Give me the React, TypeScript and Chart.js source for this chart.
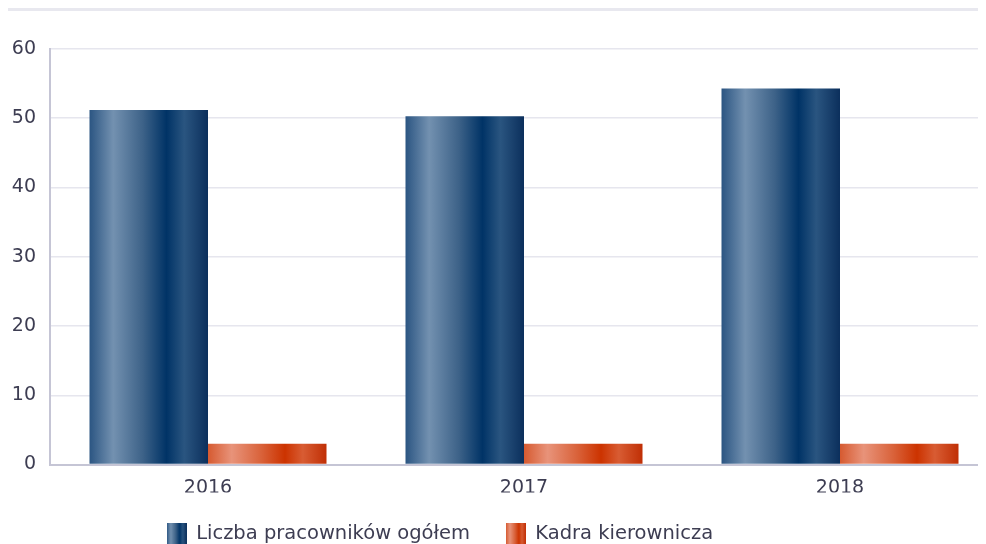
import React, { useEffect, useRef } from "react";
import { Chart, registerables } from "chart.js";

Chart.register(...registerables);

const categories = ["2016", "2017", "2018"];
const totalEmployees = [51.2, 50.3, 54.3];
const management = [3, 3, 3];
const yTicks = [0, 10, 20, 30, 40, 50, 60];
const seriesNames = ["Liczba pracowników ogółem", "Kadra kierownicza"];

const navyStops: [number, string][] = [
  [0, "#2b5582"],
  [0.2, "#7391b0"],
  [0.45, "#3d6288"],
  [0.65, "#003366"],
  [0.8, "#2a5580"],
  [1, "#0b2f5c"],
];
const orangeStops: [number, string][] = [
  [0, "#d65a30"],
  [0.2, "#e8937a"],
  [0.45, "#d9623a"],
  [0.65, "#cc3300"],
  [0.8, "#d85c33"],
  [1, "#c02f05"],
];

function makeGradient(ctx: CanvasRenderingContext2D, x0: number, x1: number, stops: [number, string][]) {
  const g = ctx.createLinearGradient(x0, 0, x1, 0);
  stops.forEach(([p, c]) => g.addColorStop(p, c));
  return g;
}

function legendImage(stops: [number, string][]) {
  const c = document.createElement("canvas");
  c.width = 20;
  c.height = 22;
  const cx = c.getContext("2d")!;
  cx.fillStyle = makeGradient(cx, 0, 20, stops);
  cx.fillRect(0, 0, 20, 22);
  return c;
}

const CAT_PCT = 0.75;

function barFill(stops: [number, string][], dsIndex: number) {
  return (context: any) => {
    const chart = context.chart;
    const xs = chart.scales?.x;
    if (!xs || context.dataIndex === undefined) return stops[3][1];
    const catW = xs.width / categories.length;
    const barW = (catW * CAT_PCT) / 2;
    const center = xs.getPixelForValue(context.dataIndex);
    const left = center - barW + dsIndex * barW;
    if (!isFinite(left) || !isFinite(barW) || barW <= 0) return stops[3][1];
    return makeGradient(chart.ctx, left, left + barW, stops);
  };
}

const legendShift = {
  id: "legendShift",
  afterLayout(chart: any) {
    const lg = chart.legend;
    if (lg) {
      lg.left = 0;
      lg.right = 864;
      lg.top -= 4;
      lg.bottom -= 4;
    }
  },
};

export default function App() {
  const ref = useRef<HTMLCanvasElement>(null);
  useEffect(() => {
    document.body.style.overflow = "hidden";
    const font = "'DejaVu Sans', sans-serif";
    const textColor = "#3d3d52";
    const navyImg = legendImage(navyStops);
    const orangeImg = legendImage(orangeStops);
    const chart = new Chart(ref.current!, {
      type: "bar",
      data: {
        labels: categories,
        datasets: [
          {
            label: seriesNames[0],
            data: totalEmployees,
            backgroundColor: barFill(navyStops, 0) as any,
            pointStyle: navyImg as any,
            categoryPercentage: CAT_PCT,
            barPercentage: 1,
          },
          {
            label: seriesNames[1],
            data: management,
            backgroundColor: barFill(orangeStops, 1) as any,
            pointStyle: orangeImg as any,
            categoryPercentage: CAT_PCT,
            barPercentage: 1,
          },
        ],
      },
      options: {
        animation: false,
        responsive: false,
        maintainAspectRatio: false,
        layout: { padding: { top: 38, left: 0, right: 0, bottom: 0 } },
        plugins: {
          tooltip: { enabled: false },
          legend: {
            position: "bottom",
            labels: {
              usePointStyle: true,
              font: { family: font, size: 19.5 },
              color: textColor,
              padding: 36,
            },
          },
        },
        scales: {
          x: {
            grid: { display: false },
            border: { color: "#c5c5d5", width: 2 },
            ticks: { font: { family: font, size: 19 }, color: textColor, padding: 4 },
            afterFit: (axis: any) => {
              axis.height = 28;
            },
          },
          y: {
            min: 0,
            max: 60,
            afterBuildTicks: (axis: any) => {
              axis.ticks = yTicks.map((v) => ({ value: v }));
            },
            afterFit: (axis: any) => {
              axis.width = 42;
            },
            grid: { color: "#e6e6ee", lineWidth: 1.5, drawTicks: false },
            border: { color: "#c5c5d5", width: 2 },
            ticks: { font: { family: font, size: 19 }, color: textColor, padding: 14 },
          },
        },
      },
      plugins: [legendShift],
    });
    return () => chart.destroy();
  }, []);
  return (
    <div style={{ width: 978, overflow: "hidden" }}>
      <div style={{ borderTop: "3px solid #e8e8ef", width: 990 }}>
        <canvas ref={ref} width={990} height={547} style={{ display: "block" }} />
      </div>
    </div>
  );
}
